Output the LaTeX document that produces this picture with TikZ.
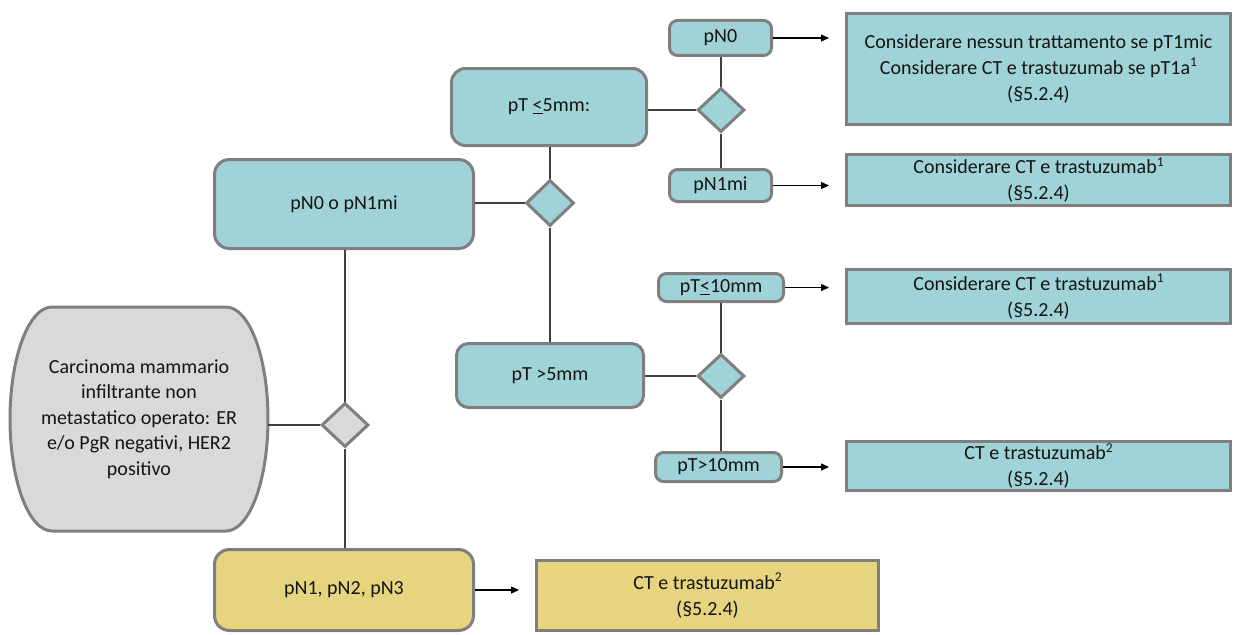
\documentclass[tikz,border=0pt]{standalone}
\usepackage{fontspec}
\setmainfont{Carlito}
\usetikzlibrary{shapes.geometric,arrows.meta}
\definecolor{teal}{HTML}{A0D3D7}
\definecolor{sand}{HTML}{E6D47F}
\definecolor{pale}{HTML}{D9D9D9}
\definecolor{rim}{HTML}{7F7F7F}
\definecolor{wire}{HTML}{404040}
\definecolor{ink}{HTML}{141414}
% small raised note marks
\newcommand{\notemark}[1]{\raisebox{0.38em}{\fontsize{13.5}{13.5}\selectfont #1}}
\tikzset{
  box/.style={draw=rim, line width=3pt, inner sep=0pt, align=center, text=ink,
              font=\fontsize{20}{26}\selectfont},
  tealbox/.style={box, fill=teal, rounded corners=#1},
  tealbox/.default=8pt,
  sandbox/.style={box, fill=sand, rounded corners=#1},
  sandbox/.default=14pt,
  tealrect/.style={box, fill=teal},
  sandrect/.style={box, fill=sand},
  choice/.style={diamond, draw=rim, line width=3pt, inner sep=0pt,
                 minimum width=47pt, minimum height=44pt},
  wireline/.style={draw=wire, line width=1.4pt},
  arrowline/.style={draw=black, line width=1.3pt, shorten >=16pt,
                    -{Triangle[length=8pt,width=7pt]}}
}
\begin{document}
\begin{tikzpicture}[x=1pt,y=-1pt]
\useasboundingbox (0,0) rectangle (1238,634);

% start shape: flat top and bottom, elliptical sides
\draw[draw=rim, line width=3pt, fill=pale]
  (52,307) -- (226,307) arc[start angle=90, end angle=-90, x radius=42pt, y radius=112pt]
  -- (52,531) arc[start angle=270, end angle=90, x radius=42pt, y radius=112pt] -- cycle;
\node[inner sep=0pt, minimum width=258pt, minimum height=224pt, align=center, text=ink,
      font=\fontsize{20}{25.5}\selectfont] (start) at (139,419)
  {Carcinoma mammario\\infiltrante non\\metastatico operato: ER\\e/o PgR negativi, HER2\\positivo};

% decision diamonds
\node[choice, fill=pale] (d1) at (345,425) {};
\node[choice, fill=teal, minimum width=48pt, minimum height=46pt] (d2) at (550,203) {};
\node[choice, fill=teal] (d3) at (721,110) {};
\node[choice, fill=teal] (d4) at (721,376) {};

% branches
\node[tealbox=15pt, minimum width=259pt, minimum height=89pt] (b1) at (344,204) {pN0 o pN1mi};
\node[sandbox=15pt, minimum width=259pt, minimum height=81pt] (bY) at (344,590) {pN1, pN2, pN3};
\node[tealbox=14pt, minimum width=195pt, minimum height=77pt] (b5) at (549,107) {pT \underline{<}5mm:};
\node[tealbox=12pt, minimum width=187pt, minimum height=64pt] (b6) at (550,375.5) {pT >5mm};
\node[tealbox, minimum width=102pt, minimum height=35pt] (n0) at (720.5,38) {pN0};
\node[tealbox, minimum width=102pt, minimum height=32pt] (n1) at (720.5,185.5) {pN1mi};
\node[tealbox, minimum width=125pt, minimum height=28pt] (t1) at (721,287.5) {pT\underline{<}10mm};
\node[tealbox, minimum width=126pt, minimum height=29pt] (t2) at (718.5,467) {pT>10mm};

% outcomes
\node[tealrect, minimum width=384pt, minimum height=111pt] (A) at (1038.5,69)
  {Considerare nessun trattamento se pT1mic\\Considerare CT e trastuzumab se pT1a\notemark{1}\\(§5.2.4)};
\node[tealrect, minimum width=384pt, minimum height=51pt] (B) at (1038.5,180)
  {Considerare CT e trastuzumab\notemark{1}\\(§5.2.4)};
\node[tealrect, minimum width=384pt, minimum height=54pt] (C) at (1038.5,296.5)
  {Considerare CT e trastuzumab\notemark{1}\\(§5.2.4)};
\node[tealrect, minimum width=384pt, minimum height=49pt] (D) at (1038.5,466)
  {CT e trastuzumab\notemark{2}\\(§5.2.4)};
\node[sandrect, minimum width=342pt, minimum height=70pt] (E) at (707.5,595.5)
  {CT e trastuzumab\notemark{2}\\(§5.2.4)};

% connectors
\path[wireline] (d1.west) -- (d1.west -| start.east);
\path[wireline] (d1.north) -- (d1.north |- b1.south);
\path[wireline] (d1.south) -- (d1.south |- bY.north);
\path[wireline] (d2.west) -- (d2.west -| b1.east);
\path[wireline] (d2.north) -- (d2.north |- b5.south);
\path[wireline] (d2.south) -- (d2.south |- b6.north);
\path[wireline] (d3.west) -- (d3.west -| b5.east);
\path[wireline] (d3.north) -- (d3.north |- n0.south);
\path[wireline] (d3.south) -- (d3.south |- n1.north);
\path[wireline] (d4.west) -- (d4.west -| b6.east);
\path[wireline] (d4.north) -- (d4.north |- t1.south);
\path[wireline] (d4.south) -- (d4.south |- t2.north);

\draw[arrowline] (n0.east) -- (n0.east -| A.west);
\draw[arrowline] (n1.east) -- (n1.east -| B.west);
\draw[arrowline] (t1.east) -- (t1.east -| C.west);
\draw[arrowline] (t2.east) -- (t2.east -| D.west);
\draw[arrowline] (bY.east) -- (bY.east -| E.west);
\end{tikzpicture}
\end{document}
